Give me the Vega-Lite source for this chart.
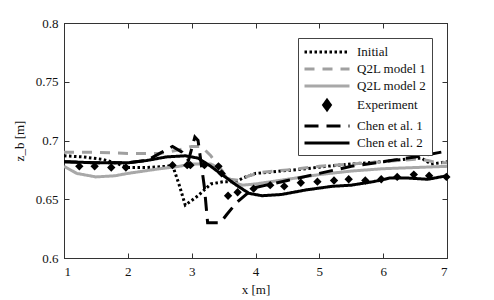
{
  "$schema": "https://vega.github.io/schema/vega-lite/v6.json",
  "width": 383,
  "height": 235,
  "autosize": {"type": "none"},
  "padding": {"left": 64, "top": 23, "right": 47, "bottom": 42},
  "background": "white",
  "view": {"stroke": "#333", "strokeWidth": 1},
  "config": {
    "font": "Liberation Serif",
    "axis": {
      "grid": false,
      "domainColor": "#333",
      "tickColor": "#333",
      "tickSize": -5,
      "labelFont": "Liberation Serif",
      "labelFontSize": 13,
      "labelColor": "#111",
      "titleFont": "Liberation Serif",
      "titleFontSize": 13,
      "titleFontWeight": "normal",
      "titleColor": "#111"
    },
    "legend": {
      "labelFont": "Liberation Serif",
      "labelFontSize": 13,
      "labelColor": "#111"
    }
  },
  "datasets": {
    "lines": [
      {"series": "Initial", "x": 1.0, "y": 0.687},
      {"series": "Initial", "x": 1.3, "y": 0.686},
      {"series": "Initial", "x": 1.6, "y": 0.684},
      {"series": "Initial", "x": 1.8, "y": 0.681},
      {"series": "Initial", "x": 2.0, "y": 0.677},
      {"series": "Initial", "x": 2.3, "y": 0.677},
      {"series": "Initial", "x": 2.6, "y": 0.678},
      {"series": "Initial", "x": 2.7, "y": 0.679},
      {"series": "Initial", "x": 2.8, "y": 0.663},
      {"series": "Initial", "x": 2.9, "y": 0.645},
      {"series": "Initial", "x": 3.1, "y": 0.653},
      {"series": "Initial", "x": 3.3, "y": 0.663},
      {"series": "Initial", "x": 3.5, "y": 0.665},
      {"series": "Initial", "x": 3.7, "y": 0.665},
      {"series": "Initial", "x": 3.8, "y": 0.668},
      {"series": "Initial", "x": 4.0, "y": 0.672},
      {"series": "Initial", "x": 4.4, "y": 0.674},
      {"series": "Initial", "x": 4.8, "y": 0.676},
      {"series": "Initial", "x": 5.1, "y": 0.678},
      {"series": "Initial", "x": 5.5, "y": 0.680},
      {"series": "Initial", "x": 6.0, "y": 0.682},
      {"series": "Initial", "x": 6.5, "y": 0.685},
      {"series": "Initial", "x": 6.6, "y": 0.685},
      {"series": "Initial", "x": 6.75, "y": 0.680},
      {"series": "Initial", "x": 6.9, "y": 0.681},
      {"series": "Initial", "x": 7.0, "y": 0.682},
      {"series": "Q2L model 1", "x": 1.0, "y": 0.690},
      {"series": "Q2L model 1", "x": 1.5, "y": 0.690},
      {"series": "Q2L model 1", "x": 2.0, "y": 0.689},
      {"series": "Q2L model 1", "x": 2.5, "y": 0.689},
      {"series": "Q2L model 1", "x": 2.8, "y": 0.692},
      {"series": "Q2L model 1", "x": 3.0, "y": 0.695},
      {"series": "Q2L model 1", "x": 3.15, "y": 0.695},
      {"series": "Q2L model 1", "x": 3.3, "y": 0.687},
      {"series": "Q2L model 1", "x": 3.45, "y": 0.676},
      {"series": "Q2L model 1", "x": 3.6, "y": 0.667},
      {"series": "Q2L model 1", "x": 3.75, "y": 0.666},
      {"series": "Q2L model 1", "x": 3.9, "y": 0.670},
      {"series": "Q2L model 1", "x": 4.1, "y": 0.673},
      {"series": "Q2L model 1", "x": 4.5, "y": 0.675},
      {"series": "Q2L model 1", "x": 5.0, "y": 0.678},
      {"series": "Q2L model 1", "x": 5.5, "y": 0.680},
      {"series": "Q2L model 1", "x": 6.0, "y": 0.682},
      {"series": "Q2L model 1", "x": 6.5, "y": 0.684},
      {"series": "Q2L model 1", "x": 6.7, "y": 0.683},
      {"series": "Q2L model 1", "x": 6.85, "y": 0.681},
      {"series": "Q2L model 1", "x": 7.0, "y": 0.681},
      {"series": "Q2L model 2", "x": 1.0, "y": 0.678},
      {"series": "Q2L model 2", "x": 1.2, "y": 0.672},
      {"series": "Q2L model 2", "x": 1.5, "y": 0.669},
      {"series": "Q2L model 2", "x": 1.8, "y": 0.670},
      {"series": "Q2L model 2", "x": 2.0, "y": 0.672},
      {"series": "Q2L model 2", "x": 2.5, "y": 0.676},
      {"series": "Q2L model 2", "x": 2.8, "y": 0.678},
      {"series": "Q2L model 2", "x": 3.0, "y": 0.680},
      {"series": "Q2L model 2", "x": 3.3, "y": 0.680},
      {"series": "Q2L model 2", "x": 3.45, "y": 0.676},
      {"series": "Q2L model 2", "x": 3.55, "y": 0.668},
      {"series": "Q2L model 2", "x": 3.65, "y": 0.664},
      {"series": "Q2L model 2", "x": 3.8, "y": 0.662},
      {"series": "Q2L model 2", "x": 4.0, "y": 0.663},
      {"series": "Q2L model 2", "x": 4.5, "y": 0.667},
      {"series": "Q2L model 2", "x": 5.0, "y": 0.671},
      {"series": "Q2L model 2", "x": 5.5, "y": 0.674},
      {"series": "Q2L model 2", "x": 6.0, "y": 0.676},
      {"series": "Q2L model 2", "x": 6.5, "y": 0.677},
      {"series": "Q2L model 2", "x": 7.0, "y": 0.678},
      {"series": "Chen et al. 1", "x": 1.0, "y": 0.682},
      {"series": "Chen et al. 1", "x": 1.5, "y": 0.681},
      {"series": "Chen et al. 1", "x": 2.0, "y": 0.681},
      {"series": "Chen et al. 1", "x": 2.3, "y": 0.683},
      {"series": "Chen et al. 1", "x": 2.5, "y": 0.689},
      {"series": "Chen et al. 1", "x": 2.7, "y": 0.695},
      {"series": "Chen et al. 1", "x": 2.85, "y": 0.690},
      {"series": "Chen et al. 1", "x": 2.95, "y": 0.683},
      {"series": "Chen et al. 1", "x": 3.05, "y": 0.703},
      {"series": "Chen et al. 1", "x": 3.1, "y": 0.700},
      {"series": "Chen et al. 1", "x": 3.2, "y": 0.660},
      {"series": "Chen et al. 1", "x": 3.25, "y": 0.630},
      {"series": "Chen et al. 1", "x": 3.45, "y": 0.630},
      {"series": "Chen et al. 1", "x": 3.55, "y": 0.637},
      {"series": "Chen et al. 1", "x": 3.7, "y": 0.647},
      {"series": "Chen et al. 1", "x": 3.85, "y": 0.654},
      {"series": "Chen et al. 1", "x": 4.0, "y": 0.660},
      {"series": "Chen et al. 1", "x": 4.5, "y": 0.666},
      {"series": "Chen et al. 1", "x": 5.0, "y": 0.672},
      {"series": "Chen et al. 1", "x": 5.5, "y": 0.678},
      {"series": "Chen et al. 1", "x": 6.0, "y": 0.682},
      {"series": "Chen et al. 1", "x": 6.5, "y": 0.686},
      {"series": "Chen et al. 1", "x": 7.0, "y": 0.691},
      {"series": "Chen et al. 2", "x": 1.0, "y": 0.682},
      {"series": "Chen et al. 2", "x": 1.5, "y": 0.681},
      {"series": "Chen et al. 2", "x": 2.0, "y": 0.681},
      {"series": "Chen et al. 2", "x": 2.3, "y": 0.683},
      {"series": "Chen et al. 2", "x": 2.6, "y": 0.686},
      {"series": "Chen et al. 2", "x": 2.9, "y": 0.687},
      {"series": "Chen et al. 2", "x": 3.1, "y": 0.685},
      {"series": "Chen et al. 2", "x": 3.3, "y": 0.678},
      {"series": "Chen et al. 2", "x": 3.5, "y": 0.670},
      {"series": "Chen et al. 2", "x": 3.7, "y": 0.662},
      {"series": "Chen et al. 2", "x": 3.9, "y": 0.655},
      {"series": "Chen et al. 2", "x": 4.1, "y": 0.653},
      {"series": "Chen et al. 2", "x": 4.4, "y": 0.654},
      {"series": "Chen et al. 2", "x": 4.8, "y": 0.658},
      {"series": "Chen et al. 2", "x": 5.2, "y": 0.661},
      {"series": "Chen et al. 2", "x": 5.5, "y": 0.662},
      {"series": "Chen et al. 2", "x": 5.85, "y": 0.665},
      {"series": "Chen et al. 2", "x": 6.1, "y": 0.668},
      {"series": "Chen et al. 2", "x": 6.4, "y": 0.668},
      {"series": "Chen et al. 2", "x": 6.7, "y": 0.667},
      {"series": "Chen et al. 2", "x": 7.0, "y": 0.670}
    ],
    "exp": [
      {"x": 1.24, "y": 0.678}, {"x": 1.48, "y": 0.678}, {"x": 1.74, "y": 0.677},
      {"x": 1.97, "y": 0.677}, {"x": 2.70, "y": 0.679}, {"x": 2.93, "y": 0.679},
      {"x": 2.98, "y": 0.679}, {"x": 3.20, "y": 0.679}, {"x": 3.42, "y": 0.678},
      {"x": 3.47, "y": 0.672}, {"x": 3.57, "y": 0.653}, {"x": 3.72, "y": 0.656},
      {"x": 3.97, "y": 0.659}, {"x": 4.23, "y": 0.662}, {"x": 4.45, "y": 0.661},
      {"x": 4.71, "y": 0.664}, {"x": 4.97, "y": 0.665}, {"x": 5.23, "y": 0.666},
      {"x": 5.46, "y": 0.667}, {"x": 5.72, "y": 0.666}, {"x": 5.97, "y": 0.667},
      {"x": 6.22, "y": 0.669}, {"x": 6.48, "y": 0.671}, {"x": 6.72, "y": 0.670},
      {"x": 6.99, "y": 0.669}
    ]
  },
  "layer": [
    {
      "data": {"name": "lines"},
      "mark": {"type": "line", "clip": true},
      "encoding": {
        "x": {"field": "x", "type": "quantitative", "scale": {"domain": [1, 7], "nice": false},
          "axis": {"values": [1, 2, 3, 4, 5, 6, 7], "title": "x [m]", "labelPadding": 12, "titlePadding": 5}},
        "y": {"field": "y", "type": "quantitative", "scale": {"domain": [0.6, 0.8], "nice": false, "zero": false},
          "axis": {"values": [0.6, 0.65, 0.7, 0.75, 0.8], "format": "~g", "title": "z_b [m]", "labelPadding": 11, "titlePadding": 9}},
        "color": {
          "field": "series", "type": "nominal",
          "scale": {"domain": ["Initial", "Q2L model 1", "Q2L model 2", "Experiment", "Chen et al. 1", "Chen et al. 2"],
                    "range": ["#000000", "#a0a0a0", "#a8a8a8", "#000000", "#000000", "#000000"]},
          "legend": {
            "title": null,
            "orient": "top-right",
            "offset": 15,
            "padding": 5,
            "strokeColor": "#444",
            "fillColor": "white",
            "symbolSize": 225,
            "rowPadding": 1,
            "labelOffset": 36,
            "encode": {
              "symbols": {
                "update": {
                  "shape": {"signal": "datum.value === 'Experiment' ? 'M2,-0.62L2.45,0L2,0.62L1.55,0Z' : 'M-1,0H5'"},
                  "size": {"value": 225},
                  "fill": {"signal": "datum.value === 'Experiment' ? '#000000' : 'transparent'"},
                  "stroke": {"signal": "datum.value === 'Q2L model 1' || datum.value === 'Q2L model 2' ? '#a0a0a0' : '#000000'"},
                  "strokeWidth": {"signal": "datum.value === 'Initial' ? 3 : datum.value === 'Q2L model 1' ? 3 : datum.value === 'Q2L model 2' ? 4 : datum.value === 'Experiment' ? 0 : datum.value === 'Chen et al. 1' ? 1.2 : 1"},
                  "strokeDash": {"signal": "datum.value === 'Initial' ? [2.5, 2.5] : datum.value === 'Q2L model 1' ? [10, 8] : datum.value === 'Chen et al. 1' ? [14, 8] : [1, 0]"},
                  "opacity": {"value": 1}
                }
              }
            }
          }
        },
        "strokeDash": {
          "field": "series", "type": "nominal",
          "scale": {"domain": ["Initial", "Q2L model 1", "Q2L model 2", "Experiment", "Chen et al. 1", "Chen et al. 2"],
                    "range": [[2.5, 2.5], [10, 8], [1, 0], [1, 0], [14, 8], [1, 0]]},
          "legend": null
        },
        "strokeWidth": {
          "field": "series", "type": "nominal",
          "scale": {"domain": ["Initial", "Q2L model 1", "Q2L model 2", "Experiment", "Chen et al. 1", "Chen et al. 2"],
                    "range": [3, 3, 4, 1, 1.2, 1]},
          "legend": null
        }
      }
    },
    {
      "data": {"name": "exp"},
      "mark": {"type": "point", "shape": "diamond", "filled": true, "color": "#000000", "size": 70, "opacity": 1},
      "encoding": {
        "x": {"field": "x", "type": "quantitative", "axis": null},
        "y": {"field": "y", "type": "quantitative", "axis": null}
      }
    },
    {
      "data": {"name": "exp"},
      "mark": {"type": "point", "opacity": 0},
      "encoding": {
        "x": {"field": "x", "type": "quantitative",
          "axis": {"orient": "top", "values": [1, 2, 3, 4, 5, 6, 7], "labels": false, "title": null}},
        "y": {"field": "y", "type": "quantitative",
          "axis": {"orient": "right", "values": [0.6, 0.65, 0.7, 0.75, 0.8], "labels": false, "title": null}}
      }
    }
  ],
  "resolve": {"axis": {"x": "independent", "y": "independent"}}
}
